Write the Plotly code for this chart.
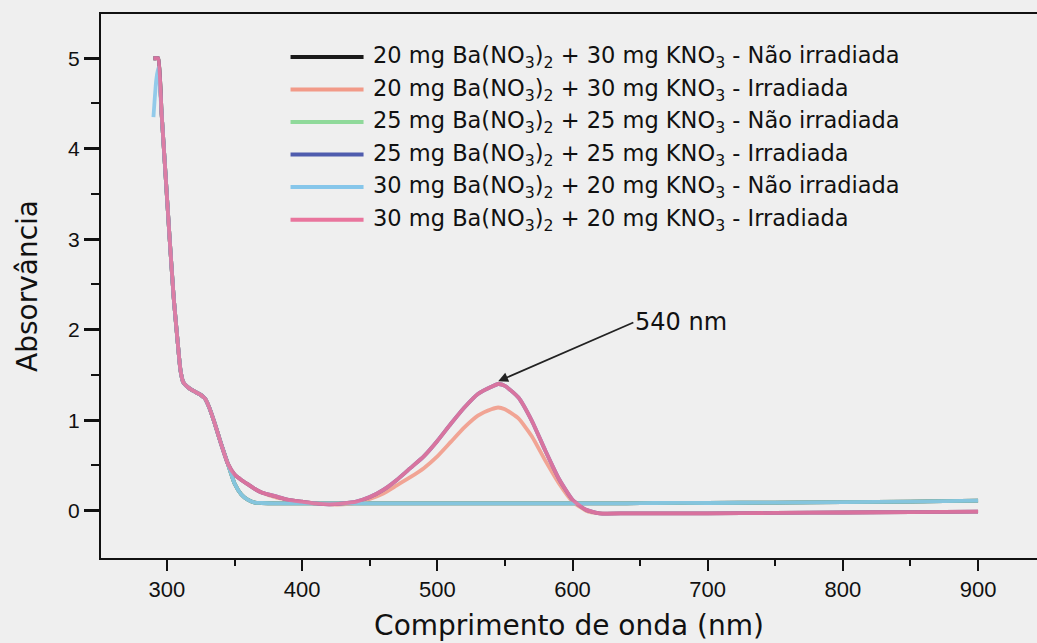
import plotly.graph_objects as go

# Wavelength grid (nm)
wl = [290, 292, 293.5, 296, 299, 302, 305, 308, 310, 312, 315, 320, 325, 328, 331, 335,
      340, 345, 350, 355, 360, 365, 370, 380, 390, 400, 410, 420, 430, 440, 450, 460,
      470, 480, 490, 500, 510, 520, 530, 540, 545, 550, 560, 570, 580, 590, 600, 610,
      620, 640, 660, 700, 750, 800, 850, 900]

uv = [5.0, 5.0, 5.0, 4.4, 3.7, 3.0, 2.35, 1.85, 1.55, 1.42, 1.37, 1.32, 1.28, 1.24, 1.15, 0.98,
      0.74, 0.52]

# Non-irradiated samples: UV edge then flat baseline
base_tail = [0.30, 0.18, 0.12, 0.09, 0.085, 0.08, 0.08, 0.08, 0.08, 0.08, 0.08, 0.08, 0.08,
             0.08, 0.08, 0.08, 0.08, 0.08, 0.08, 0.08, 0.08, 0.08, 0.08, 0.08, 0.08, 0.08,
             0.08, 0.08, 0.08, 0.08, 0.08, 0.08, 0.085, 0.085, 0.09, 0.095, 0.10, 0.11]

a_20_30_nao = uv + base_tail
a_25_25_nao = uv + base_tail
a_30_20_nao = [4.35, 4.75, 4.9] + uv[3:] + base_tail

# Irradiated samples: colour-centre band near 540 nm
a_20_30_irr = uv + [0.40, 0.34, 0.29, 0.24, 0.20, 0.15, 0.12, 0.10, 0.08, 0.07, 0.07, 0.09,
                    0.13, 0.19, 0.28, 0.37, 0.47, 0.60, 0.76, 0.92, 1.05, 1.12, 1.14, 1.12,
                    1.02, 0.82, 0.55, 0.30, 0.10, 0.00, -0.03, -0.03, -0.03, -0.03, -0.025,
                    -0.02, -0.015, -0.01]
a_25_25_irr = uv + [0.40, 0.34, 0.29, 0.24, 0.20, 0.16, 0.12, 0.10, 0.08, 0.07, 0.08, 0.10,
                    0.15, 0.23, 0.34, 0.47, 0.60, 0.77, 0.96, 1.14, 1.29, 1.37, 1.40, 1.38,
                    1.25, 0.99, 0.66, 0.35, 0.12, 0.01, -0.03, -0.03, -0.03, -0.03, -0.025,
                    -0.02, -0.015, -0.01]
a_30_20_irr = uv + [0.40, 0.34, 0.29, 0.24, 0.20, 0.16, 0.12, 0.10, 0.08, 0.07, 0.08, 0.10,
                    0.15, 0.23, 0.34, 0.47, 0.60, 0.77, 0.96, 1.14, 1.29, 1.37, 1.40, 1.38,
                    1.25, 0.99, 0.66, 0.35, 0.12, 0.01, -0.03, -0.03, -0.03, -0.03, -0.025,
                    -0.02, -0.015, -0.01]

labels = [
    "20 mg Ba(NO<sub>3</sub>)<sub>2</sub> + 30 mg KNO<sub>3</sub> - Não irradiada",
    "20 mg Ba(NO<sub>3</sub>)<sub>2</sub> + 30 mg KNO<sub>3</sub> - Irradiada",
    "25 mg Ba(NO<sub>3</sub>)<sub>2</sub> + 25 mg KNO<sub>3</sub> - Não irradiada",
    "25 mg Ba(NO<sub>3</sub>)<sub>2</sub> + 25 mg KNO<sub>3</sub> - Irradiada",
    "30 mg Ba(NO<sub>3</sub>)<sub>2</sub> + 20 mg KNO<sub>3</sub> - Não irradiada",
    "30 mg Ba(NO<sub>3</sub>)<sub>2</sub> + 20 mg KNO<sub>3</sub> - Irradiada",
]
series = [a_20_30_nao, a_20_30_irr, a_25_25_nao, a_25_25_irr, a_30_20_nao, a_30_20_irr]
colors = ["#1a1a1a", "#f29a88", "#8fd99a", "#4f5cae", "#86c6ea", "#e9759d"]

x_ticks = [300, 400, 500, 600, 700, 800, 900]
y_ticks = [0, 1, 2, 3, 4, 5]

peak_nm = 545
peak_abs = 1.43
peak_label = "540 nm"

FONT = "Arial, Liberation Sans, sans-serif"
WIDE = "DejaVu Sans, Verdana, sans-serif"
BG = "#efefef"

fig = go.Figure()
for ys, col, name in zip(series, colors, labels):
    fig.add_trace(go.Scatter(x=wl, y=ys, mode="lines", name=name,
                             line=dict(color=col, width=3.8, shape="spline", smoothing=0.5),
                             opacity=0.88, showlegend=False))

# Hand-built legend: line sample + label per row
leg_y0, leg_dy = 0.921, 0.0598
for i, (col, name) in enumerate(zip(colors, labels)):
    yy = leg_y0 - i * leg_dy
    fig.add_shape(type="line", xref="paper", yref="paper",
                  x0=0.2025, x1=0.2805, y0=yy, y1=yy,
                  line=dict(color=col, width=4))
    fig.add_annotation(xref="paper", yref="paper", x=0.2885, y=yy, xanchor="left",
                       yanchor="middle", text=name, showarrow=False,
                       font=dict(family=WIDE, size=22.5, color="#111"))

fig.add_annotation(x=peak_nm, y=peak_abs, ax=645, ay=2.08, xref="x", yref="y",
                   axref="x", ayref="y", xanchor="left", text=peak_label,
                   showarrow=True, arrowhead=2, arrowsize=1.1, arrowwidth=1.8,
                   arrowcolor="#222", font=dict(family=WIDE, size=24, color="#111"))

fig.update_layout(
    width=1037, height=643,
    margin=dict(l=101, r=0, t=14, b=85),
    paper_bgcolor=BG, plot_bgcolor=BG,
    font=dict(family=FONT, color="#111"),
    xaxis=dict(range=[251.2, 943.6], tickvals=x_ticks, ticks="outside", ticklen=11,
               tickwidth=2, tickcolor="#111", showline=True, linecolor="#111",
               linewidth=2, mirror=True, showgrid=False, zeroline=False,
               tickfont=dict(size=22), title=dict(text="Comprimento de onda (nm)",
               font=dict(family=WIDE, size=28), standoff=14),
               minor=dict(tickvals=[350, 450, 550, 650, 750, 850], ticks="outside",
                          ticklen=6, tickwidth=2, tickcolor="#111")),
    yaxis=dict(range=[-0.523, 5.489], tickvals=y_ticks, ticks="outside", ticklen=15,
               tickwidth=2.5, tickcolor="#111", showline=True, linecolor="#111",
               linewidth=2, showgrid=False, zeroline=False, tickfont=dict(size=21),
               title=dict(text="Absorvância", font=dict(family=WIDE, size=28), standoff=22),
               minor=dict(tickvals=[0.5, 1.5, 2.5, 3.5, 4.5], ticks="outside",
                          ticklen=8, tickwidth=2, tickcolor="#111")),
)

fig.write_html("out.html")
